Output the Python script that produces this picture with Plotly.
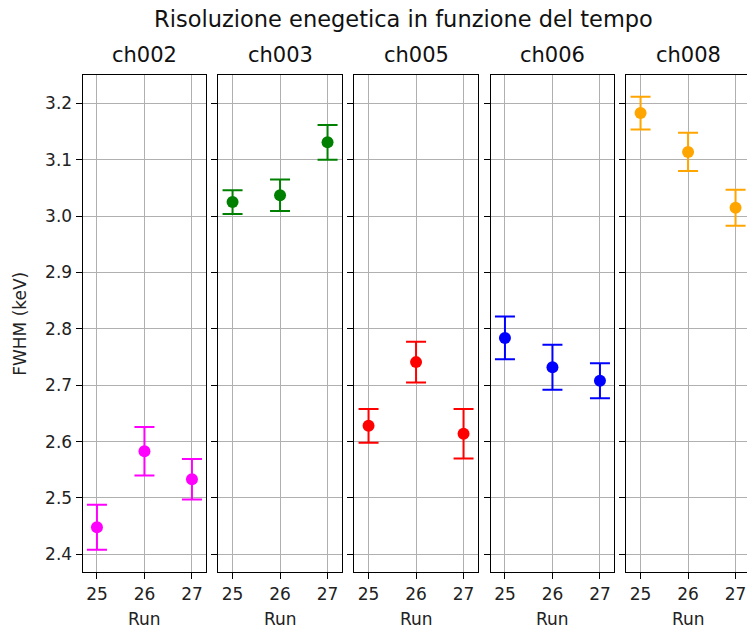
import plotly.graph_objects as go

runs = [25, 26, 27]
channels = ["ch002", "ch003", "ch005", "ch006", "ch008"]
colors = ["#ff00ff", "#008000", "#ff0000", "#0000ff", "#ffa500"]
fwhm = {
    "ch002": [2.448, 2.583, 2.533],
    "ch003": [3.025, 3.037, 3.131],
    "ch005": [2.628, 2.741, 2.614],
    "ch006": [2.784, 2.732, 2.708],
    "ch008": [3.183, 3.114, 3.015],
}
fwhm_err = {
    "ch002": [0.040, 0.043, 0.036],
    "ch003": [0.021, 0.028, 0.031],
    "ch005": [0.030, 0.036, 0.044],
    "ch006": [0.038, 0.040, 0.031],
    "ch008": [0.029, 0.034, 0.032],
}
yticks = [2.4, 2.5, 2.6, 2.7, 2.8, 2.9, 3.0, 3.1, 3.2]

W, H = 747, 633
FONT = "DejaVu Sans"
# pixel positions of the panels
panel_px = [(82.7, 206.0), (218.3, 342.3), (354.3, 478.3), (490.7, 614.3), (626.3, 750.3)]
top_px, bot_px = 75.3, 572.3
px_per_unit = 123.5 / 2.6
xmin = 24.7

fig = go.Figure()
layout = dict(
    width=W, height=H,
    margin=dict(l=0, r=0, t=0, b=0),
    paper_bgcolor="white", plot_bgcolor="white",
    showlegend=False,
    title=dict(text="Risoluzione enegetica in funzione del tempo",
               x=403.5 / W, xanchor="center", y=1 - 19 / H, yanchor="middle",
               font=dict(family=FONT, size=22.5, color="#111")),
    font=dict(family=FONT, size=17, color="#222"),
)
annotations = []
ydom = [1 - bot_px / H, 1 - top_px / H]

for i, (ch, col) in enumerate(zip(channels, colors)):
    n = "" if i == 0 else str(i + 1)
    x0, x1 = panel_px[i]
    x1c = min(x1, W)
    xmax = xmin + (x1c - x0) / px_per_unit
    last = (i == len(channels) - 1)
    fig.add_trace(go.Scatter(
        x=runs, y=fwhm[ch], mode="markers",
        marker=dict(color=col, size=12),
        error_y=dict(type="data", array=fwhm_err[ch], color=col, thickness=2, width=10),
        xaxis="x" + n, yaxis="y" + n, cliponaxis=False,
    ))
    layout["xaxis" + n] = dict(
        domain=[x0 / W, x1c / W], range=[xmin, xmax], anchor="y" + n,
        tickvals=runs, ticktext=[str(r) for r in runs],
        showgrid=True, gridcolor="#b0b0b0", gridwidth=1,
        showline=True, linecolor="black", linewidth=1.3, mirror=True,
        ticks="outside", ticklen=6, tickcolor="black", tickwidth=1.2,
        tickfont=dict(family=FONT, size=17, color="#222"),
        zeroline=False, fixedrange=True,
    )
    layout["yaxis" + n] = dict(
        domain=ydom, range=[2.368, 3.250], anchor="x" + n,
        tickvals=yticks, ticktext=["%.1f" % v for v in yticks],
        showticklabels=(i == 0),
        showgrid=True, gridcolor="#b0b0b0", gridwidth=1,
        showline=True, linecolor="black", linewidth=1.3, mirror=(not last),
        ticks="outside", ticklen=6, tickcolor="black", tickwidth=1.2,
        tickfont=dict(family=FONT, size=17, color="#222"),
        zeroline=False, fixedrange=True,
    )
    annotations.append(dict(
        text=ch, x=(x0 + x1) / 2 / W, y=1 - 55 / H, xref="paper", yref="paper",
        xanchor="center", yanchor="middle", showarrow=False,
        font=dict(family=FONT, size=21, color="#111"),
    ))
    annotations.append(dict(
        text="Run", x=(x0 + x1) / 2 / W, y=1 - 619 / H, xref="paper", yref="paper",
        xanchor="center", yanchor="middle", showarrow=False,
        font=dict(family=FONT, size=17, color="#222"),
    ))

annotations.append(dict(
    text="FWHM (keV)", x=20 / W, y=1 - 323.8 / H, xref="paper", yref="paper",
    xanchor="center", yanchor="middle", showarrow=False, textangle=-90,
    font=dict(family=FONT, size=17, color="#222"),
))
layout["annotations"] = annotations
fig.update_layout(**layout)
fig.write_html("out.html")
